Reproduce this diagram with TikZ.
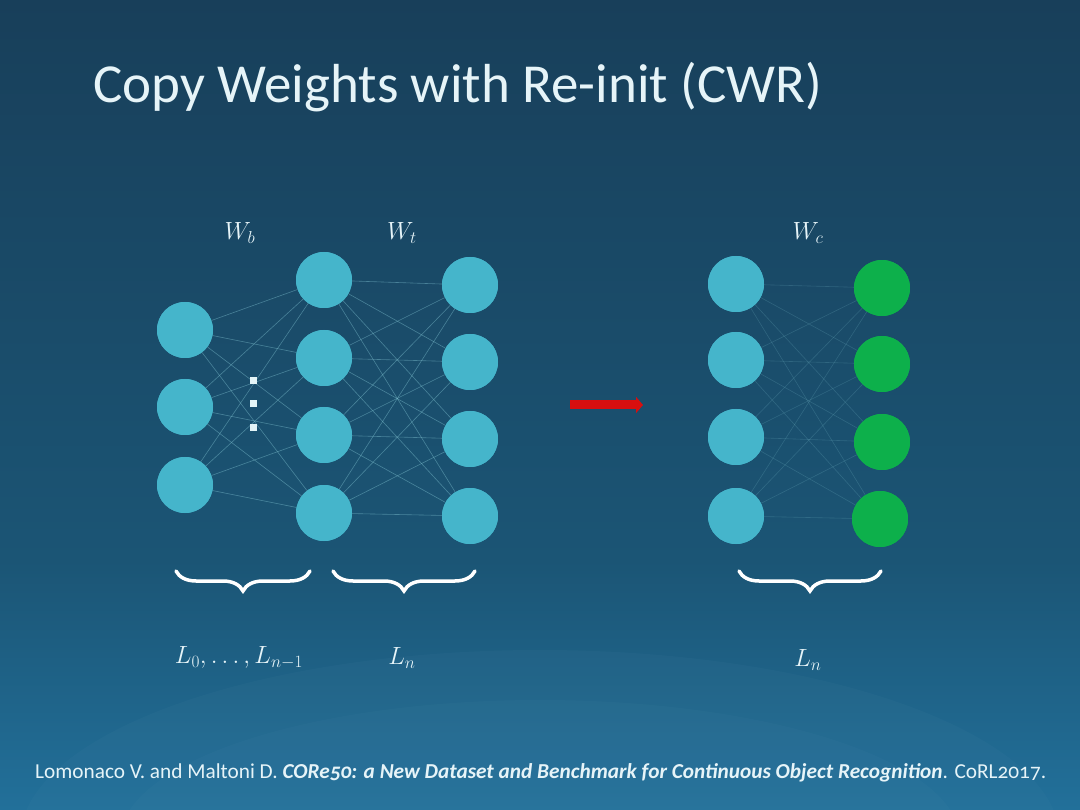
\documentclass[tikz,border=0pt]{standalone}
\usepackage{fontspec}
\setmainfont{Carlito}[Numbers=OldStyle]
\usetikzlibrary{decorations.pathreplacing,arrows.meta}
\definecolor{bgtop}{HTML}{183F5A}
\definecolor{bgmid}{HTML}{1B5575}
\definecolor{bgbot}{HTML}{22709A}
\definecolor{neuron}{HTML}{45B5CB}
\definecolor{neurong}{HTML}{0DB04B}
\definecolor{txt}{HTML}{E6F4F8}
\definecolor{arrowred}{HTML}{D80F0F}
\tikzset{
  neu/.style={circle,fill=neuron,minimum size=56pt,inner sep=0pt},
  neug/.style={circle,fill=neurong,minimum size=56pt,inner sep=0pt},
  conn/.style={draw=neuron!60!white,line width=0.6pt,opacity=0.4},
  connf/.style={draw=neuron!60!white,line width=0.6pt,opacity=0.18},
  dotsq/.style={fill=white!85!neuron,minimum size=7pt,inner sep=0pt},
  wlab/.style={text=txt,font=\fontsize{25}{28}\selectfont},
  brc/.style={draw=white,line width=3.5pt,line cap=round,decorate,decoration={brace,mirror,amplitude=20pt}},
}
\begin{document}
\begin{tikzpicture}[x=1pt,y=-1pt]
\useasboundingbox (0,0) rectangle (1080,810);
\shade[top color=bgtop,bottom color=bgmid] (0,0) rectangle (1080,560);
\shade[top color=bgmid,bottom color=bgbot] (0,560) rectangle (1080,810);
\fill[bgbot!70!white,opacity=0.06] (540,840) ellipse (520 and 190);
\fill[bgbot!70!white,opacity=0.06] (540,840) ellipse (420 and 140);
% title
\node[anchor=base west,text=txt,inner sep=0pt,font=\fontsize{55}{60}\selectfont] (title) at (93,103) {Copy Weights with Re-init (CWR)};
% left network
\node[neu] (a1) at (185,330) {};
\node[neu] (a2) at (185,407) {};
\node[neu] (a3) at (185,485) {};
\node[neu] (b1) at (324,280) {};
\node[neu] (b2) at (324,358) {};
\node[neu] (b3) at (324,435) {};
\node[neu] (b4) at (324,513) {};
\node[neu] (c1) at (470,285) {};
\node[neu] (c2) at (470,362) {};
\node[neu] (c3) at (470,439) {};
\node[neu] (c4) at (470,516) {};
\foreach \i in {1,2,3}{\foreach \j in {1,2,3,4}{\path[conn] (a\i) -- (b\j);}}
\foreach \i in {1,2,3,4}{\foreach \j in {1,2,3,4}{\path[conn] (b\i) -- (c\j);}}
\foreach \x/\y in {185/330,185/407,185/485,324/280,324/358,324/435,324/513,470/285,470/362,470/439,470/516}{\fill[neuron] (\x,\y) circle (28);}
\node[dotsq] (d1) at (253,381) {};
\node[dotsq] (d2) at (253,404) {};
\node[dotsq] (d3) at (253,428) {};
% right network
\node[neu] (p1) at (736,284) {};
\node[neu] (p2) at (736,360) {};
\node[neu] (p3) at (736,437) {};
\node[neu] (p4) at (736,516) {};
\node[neug] (q1) at (882,288) {};
\node[neug] (q2) at (882,364) {};
\node[neug] (q3) at (882,442) {};
\node[neug] (q4) at (880,519) {};
\foreach \i in {1,2,3,4}{\foreach \j in {1,2,3,4}{\path[connf] (p\i) -- (q\j);}}
\foreach \x/\y in {736/284,736/360,736/437,736/516}{\fill[neuron] (\x,\y) circle (28);}
\foreach \x/\y in {882/288,882/364,882/442,880/519}{\fill[neurong] (\x,\y) circle (28);}
% weight labels
\node[wlab] (wb) at (240,233) {$W_b$};
\node[wlab] (wt) at (402,233) {$W_t$};
\node[wlab] (wc) at (808,233) {$W_c$};
% arrow
\coordinate (ar1) at (570,405);
\coordinate (ar2) at (643,405);
\draw[arrowred,line width=9pt,-{Triangle[length=7pt,width=16pt]}] (ar1) -- (ar2);
% braces
\coordinate (br1a) at (176,571); \coordinate (br1b) at (310,571);
\coordinate (br2a) at (333,571); \coordinate (br2b) at (475,571);
\coordinate (br3a) at (739,571); \coordinate (br3b) at (881,571);
\draw[brc] (br1a) -- (br1b);
\draw[brc] (br2a) -- (br2b);
\draw[brc] (br3a) -- (br3b);
\node[wlab] (l1) at (239,658) {$L_0,\ldots,L_{n-1}$};
\node[wlab] (l2) at (402,658) {$L_n$};
\node[wlab] (l3) at (808,660) {$L_n$};
% footer
\node[anchor=base west,text=txt,inner sep=0pt,font=\fontsize{21.3}{24}\selectfont] (foot) at (35,778) {Lomonaco V. and Maltoni D. \textbf{\textit{CORe50: a New Dataset and Benchmark for Continuous Object Recognition}}. CoRL2017.};
\end{tikzpicture}
\end{document}
